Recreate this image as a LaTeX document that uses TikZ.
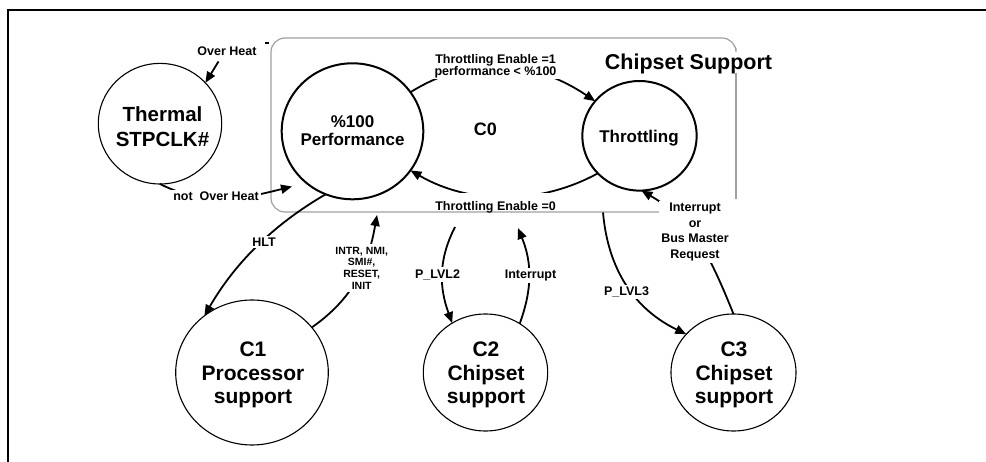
\documentclass[tikz,border=0pt]{standalone}
\usepackage{fontspec}
\setmainfont{Liberation Sans}
\usetikzlibrary{shapes.geometric,arrows.meta}
\definecolor{boxgray}{RGB}{160,160,160}
\newcommand\tightlines{\lineskiplimit=-20pt\relax\lineskip=0pt\relax}
\begin{document}
\begin{tikzpicture}[x=1pt,y=1pt,
  stthin/.style={ellipse, draw, line width=1.1pt, inner sep=0pt, outer sep=0pt},
  stthick/.style={ellipse, draw, line width=2pt, inner sep=0pt, outer sep=0pt},
  conn/.style={line width=1.8pt, -{Triangle[length=11pt,width=9pt]}},
  bigt/.style={font=\fontsize{20.5}{25}\selectfont\bfseries, align=center, inner sep=0pt},
  cst/.style={font=\fontsize{21}{23.5}\selectfont\bfseries, align=center, inner sep=0pt},
  midt/.style={font=\fontsize{17}{18}\selectfont\bfseries, align=center, inner sep=0pt},
  lab/.style={font=\fontsize{12.5}{15.5}\selectfont\bfseries, align=center, inner sep=2pt},
  wlab/.style={lab, fill=white}
]
\useasboundingbox (0,0) rectangle (986,-462);
% outer frame
\draw[line width=2pt] (8.3,-470) -- (8.3,-10) -- (995,-10);
% C0 box (gray, partly hidden)
\draw[boxgray, line width=1.2pt] (736,-48) -- (736,-52) arc[start angle=0,end angle=90,radius=14]
  -- (285,-38) arc[start angle=90,end angle=180,radius=14]
  -- (271,-198) arc[start angle=180,end angle=270,radius=14] -- (660,-212);
\draw[boxgray, line width=1.2pt] (736,-73) -- (736,-199);
\draw[line width=1.3pt] (265,-43) -- (268.5,-43);

% states
\node[stthin, minimum width=123.4pt, minimum height=120.6pt] (th) at (160,-123.7) {};
\node[stthick, minimum width=141.6pt, minimum height=136pt] (pf) at (352.5,-131.3) {};
\node[stthick, minimum width=114.4pt, minimum height=109.6pt] (tr) at (639.5,-135.8) {};
\node[stthin, minimum width=152.6pt, minimum height=145pt] (c1) at (252,-372.5) {};
\node[stthin, minimum width=124.4pt, minimum height=117pt] (c2) at (485.5,-372.5) {};
\node[stthin, minimum width=125pt, minimum height=117pt] (c3) at (733.5,-372.5) {};

\node[bigt] (tht) at (162.5,-127) {Thermal\\STPCLK\#};
\node[midt] (pft) at (352.5,-131) {\%100\\Performance};
\node[font=\fontsize{18}{20}\selectfont\bfseries, inner sep=0pt] (c0t) at (485.5,-129.5) {C0};
\node[midt] (trt) at (639,-137.7) {Throttling};
\node[font=\fontsize{21.5}{24}\selectfont\bfseries, inner sep=0pt] (cs) at (688.5,-63.9) {Chipset Support};
\node[cst] (c1t) at (253,-375) {C1\\Processor\\support};
\node[cst] (c2t) at (486,-375) {C2\\Chipset\\support};
\node[cst] (c3t) at (734,-375) {C3\\Chipset\\support};

% free ends
\coordinate (ohs) at (218.5,-61.5);
\coordinate (noh) at (292,-186.5);
\coordinate (intrE) at (377,-215);
\coordinate (pl2S) at (455,-227);
\coordinate (intE) at (518,-228);
\coordinate (pl3S) at (603,-212.5);

% connectors
\draw[conn] (ohs) -- (th.42);
\draw[conn] (th.-90) .. controls (206,-207) and (242,-199) .. (noh);
\draw[conn] (pf.34) to[out=32,in=146] (tr.142);
\draw[conn] (tr.-138) .. controls (540,-205) and (470,-205) .. (pf.-34);
\draw[conn] (pf.-113) to[out=-150,in=60,looseness=0.9] (c1.130);
\draw[conn] (c1.37) to[out=35,in=-100] (intrE);
\draw[conn] (pl2S) to[out=-117,in=110] (c2.124);
\draw[conn] (c2.55) to[out=70,in=-68] (intE);
\draw[conn] (pl3S) to[out=-85,in=154] (c3.141);
\draw[conn] (c3.90) to[out=112,in=-30] (tr.-88);

% labels
\node[lab] (l1) at (227,-51.7) {Over Heat};
\node[wlab] (l2) at (216,-196.4) {not\ \ Over Heat};
\node[wlab, font={\fontsize{12.5}{11.8}\selectfont\bfseries\tightlines}, inner xsep=3pt, inner ysep=1pt] (l3) at (495.5,-66) {Throttling Enable =1\\performance < \%100};
\node[wlab, anchor=base, text height=17.5pt, text depth=0pt, inner xsep=1pt, inner ysep=0pt] (l4) at (495.5,-210.5) {Throttling Enable =0};
\node[wlab] (l5) at (264,-242) {HLT};
\node[wlab, font={\fontsize{10.5}{11.7}\selectfont\bfseries}, inner sep=3pt] (l6) at (361.7,-268) {INTR, NMI,\\SMI\#,\\RESET,\\INIT};
\node[wlab] (l7) at (437.5,-274.5) {P\_LVL2};
\node[wlab] (l8) at (530.5,-275.8) {Interrupt};
\node[wlab] (l9) at (626.5,-292.3) {P\_LVL3};
\node[wlab] (l10) at (695,-231.8) {Interrupt\\or\\Bus Master\\Request};
\end{tikzpicture}
\end{document}
